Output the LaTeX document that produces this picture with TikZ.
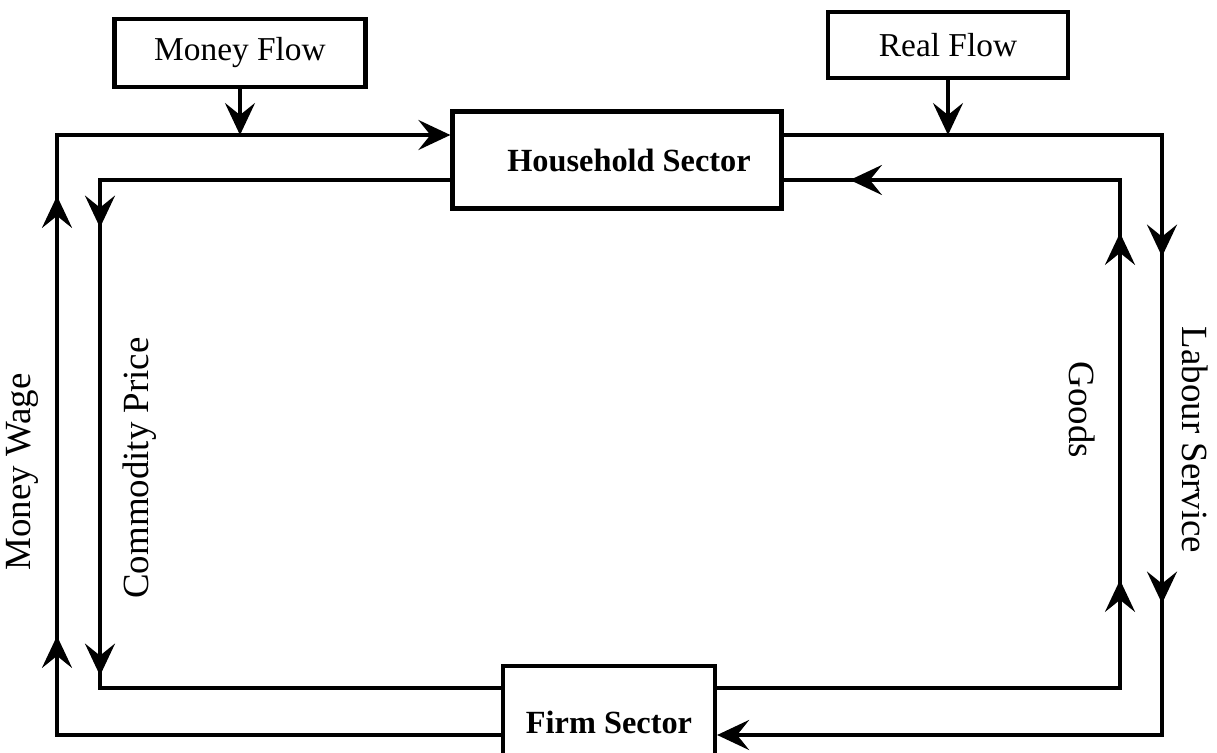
\documentclass[tikz,border=0pt]{standalone}
\usepackage{fontspec}
\setmainfont{Liberation Serif}
\usetikzlibrary{arrows.meta,decorations.markings}

\begin{document}
\begin{tikzpicture}[x=0.1mm,y=-0.1mm,line width=1pt,
  >={Stealth[length=3.2mm,width=3mm,inset=1.2mm]},
  box/.style={draw,line width=1.2pt,fill=white,font=\fontsize{9.5}{11}\selectfont},
  sector/.style={box,font=\fontsize{9.2}{11}\selectfont\bfseries},
  lbl/.style={font=\fontsize{10.5}{12}\selectfont},
  tipat/.style={postaction={decorate,decoration={markings,mark=at position #1 with {\arrow{>}}}}}]
  \clip (0,0) rectangle (1217,753);
  \fill[white] (0,0) rectangle (1217,753);
  \node[box,minimum width=2.51cm,minimum height=0.68cm] (mf) at (240,53) {Money Flow};
  \node[box,minimum width=2.40cm,minimum height=0.66cm] (rf) at (948,45) {Real Flow};
  \node[sector,minimum width=3.29cm,minimum height=0.97cm] (hh) at (617,160) {\hspace{2.4mm}Household Sector};
  \node[sector,minimum width=2.12cm,minimum height=1.12cm] (firm) at (609,722) {Firm Sector};
  \coordinate (otl) at (57,135);
  \coordinate (obl) at (57,735);
  \coordinate (itl) at (100,180);
  \coordinate (ibl) at (100,688);
  \coordinate (otr) at (1162,135);
  \coordinate (obr) at (1162,735);
  \coordinate (itr) at (1120,180);
  \coordinate (ibr) at (1120,688);
  \draw[->,tipat=5.43cm,tipat=9.83cm] (firm.west |- obl) -- (obl) -- (otl) -- (hh.west |- otl);
  \draw[tipat=3.98cm,tipat=8.46cm] (hh.west |- itl) -- (itl) -- (ibl) -- (firm.west |- ibl);
  \draw[->,tipat=5.0cm,tipat=8.47cm] (hh.east |- otr) -- (otr) -- (obr) -- (firm.east |- obr);
  \draw[tipat=5.11cm,tipat=8.58cm,tipat=11.81cm] (firm.east |- ibr) -- (ibr) -- (itr) -- (hh.east |- itr);
  \draw[->] (mf) -- (mf |- otl);
  \draw[->] (rf) -- (rf |- otr);
  \node[lbl,rotate=90] (mw) at (22,472) {Money Wage};
  \node[lbl,rotate=90] (cp) at (140,468) {Commodity Price};
  \node[lbl,rotate=-90] (gd) at (1082,410) {Goods};
  \node[lbl,rotate=-90] (ls) at (1195,440) {Labour Service};
\end{tikzpicture}
\end{document}
